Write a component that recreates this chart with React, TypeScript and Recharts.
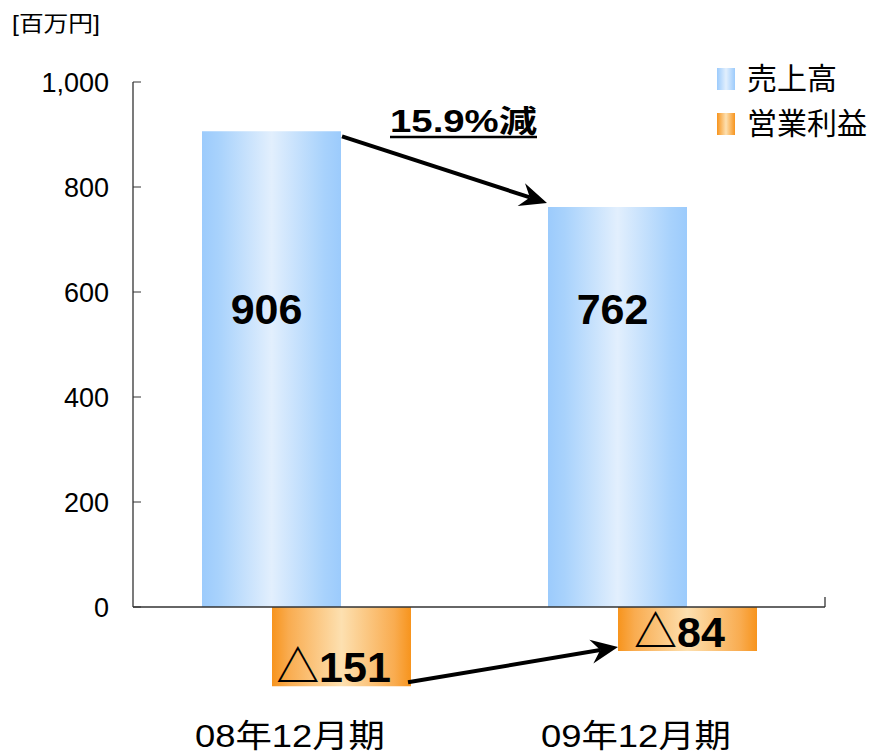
import { BarChart, Bar, XAxis, YAxis, ReferenceLine, Legend, LabelList } from 'recharts';

const periods = ['08年12月期', '09年12月期'];
const sales = [906, 762];
const profit = [-151, -84];
const yTicks = [0, 200, 400, 600, 800, 1000];
const seriesNames = ['売上高', '営業利益'];
const changeLabel = '15.9%減';
const unitLabel = '[百万円]';

const data = periods.map((p, i) => ({ period: p, sales: sales[i], profit: profit[i] }));

const W = 874;
const H = 755;
const FONT = "'Liberation Sans', 'Noto Sans CJK JP', sans-serif";

// layout constants (used for the annotation overlay)
const PLOT_LEFT = 133;
const PLOT_RIGHT = 825;
const PLOT_TOP = 82;
const PLOT_BOTTOM = 712;
const Y_MIN = -200;
const Y_MAX = 1000;
const BAND = (PLOT_RIGHT - PLOT_LEFT) / periods.length;
const BAR = 139;
const GAP = -69;
const BAR_OFFSET = Math.floor((BAND - (BAR * 2 + GAP)) / 2);

const yPx = (v: number) => PLOT_TOP + ((Y_MAX - v) / (Y_MAX - Y_MIN)) * (PLOT_BOTTOM - PLOT_TOP);
const salesLeft = (i: number) => PLOT_LEFT + i * BAND + BAR_OFFSET;
const profitLeft = (i: number) => salesLeft(i) + BAR + GAP;

const fmtProfit = (v: number) => (v < 0 ? '△' + Math.abs(v) : String(v));

function Arrow({ x1, y1, x2, y2 }: { x1: number; y1: number; x2: number; y2: number }) {
  const dx = x2 - x1;
  const dy = y2 - y1;
  const len = Math.sqrt(dx * dx + dy * dy);
  const ux = dx / len;
  const uy = dy / len;
  const px = -uy;
  const py = ux;
  const L = 27;
  const hw = 12;
  const notch = 9;
  const bx = x2 - ux * L;
  const by = y2 - uy * L;
  const nx = x2 - ux * (L - notch);
  const ny = y2 - uy * (L - notch);
  const pts = [
    [x2, y2],
    [bx + px * hw, by + py * hw],
    [nx, ny],
    [bx - px * hw, by - py * hw],
  ]
    .map((p) => p.join(','))
    .join(' ');
  return (
    <g>
      <line x1={x1} y1={y1} x2={nx} y2={ny} stroke="#000" strokeWidth={4} />
      <polygon points={pts} fill="#000" />
    </g>
  );
}

const XTick = (props: any) => {
  const { x, y, payload } = props;
  return (
    <text
      x={x - 16}
      y={y + 27}
      textAnchor="middle"
      fontSize={32}
      fontFamily={FONT}
      fill="#000"
      textLength={190}
      lengthAdjust="spacingAndGlyphs"
    >
      {payload.value}
    </text>
  );
};

const SalesLabel = (props: any) => {
  const { x, width, value } = props;
  return (
    <text
      x={x + width / 2 - 5}
      y={yPx(568)}
      textAnchor="middle"
      dominantBaseline="central"
      fontSize={43}
      fontWeight="bold"
      fontFamily={FONT}
      fill="#000"
    >
      {value}
    </text>
  );
};

const ProfitLabel = (props: any) => {
  const { x, y, width, height, value } = props;
  const bottom = Math.max(y, y + height);
  return (
    <text
      x={x + width / 2 - 8}
      y={bottom - 4}
      textAnchor="middle"
      fontSize={43}
      fontWeight="bold"
      fontFamily={FONT}
      fill="#000"
    >
      {fmtProfit(value)}
    </text>
  );
};

const swatchBg = [
  'linear-gradient(to right, #9ccbfc, #e2effd 50%, #9ccbfc)',
  'linear-gradient(to right, #f7941d, #fde0b0 50%, #f7941d)',
];

const LegendBox = () => (
  <div style={{ fontFamily: FONT }}>
    {seriesNames.map((n, i) => (
      <div key={n} style={{ display: 'flex', alignItems: 'center', height: 45 }}>
        <div style={{ width: 18, height: 22, background: swatchBg[i], marginRight: 12 }} />
        <span style={{ fontSize: 30, color: '#000', lineHeight: '30px' }}>{n}</span>
      </div>
    ))}
  </div>
);

export default function App() {
  return (
    <div style={{ position: 'absolute', left: 0, top: 0, width: W, height: H, background: '#fff' }}>
      <BarChart
        width={W}
        height={H}
        data={data}
        margin={{ top: PLOT_TOP, right: W - PLOT_RIGHT, bottom: 0, left: 0 }}
        barGap={GAP}
        barSize={BAR}
      >
        <defs>
          <linearGradient id="gSales" x1="0" y1="0" x2="1" y2="0">
            <stop offset="0%" stopColor="#9ccbfc" />
            <stop offset="12%" stopColor="#a8d2fc" />
            <stop offset="50%" stopColor="#e2effd" />
            <stop offset="88%" stopColor="#a8d2fc" />
            <stop offset="100%" stopColor="#9ccbfc" />
          </linearGradient>
          <linearGradient id="gProfit" x1="0" y1="0" x2="1" y2="0">
            <stop offset="0%" stopColor="#f7941d" />
            <stop offset="12%" stopColor="#f9ac50" />
            <stop offset="50%" stopColor="#fde0b0" />
            <stop offset="88%" stopColor="#f9ac50" />
            <stop offset="100%" stopColor="#f7941d" />
          </linearGradient>
        </defs>
        <XAxis
          dataKey="period"
          axisLine={false}
          tickLine={false}
          height={H - PLOT_BOTTOM}
          tick={<XTick />}
          interval={0}
        />
        <XAxis xAxisId="n" type="number" domain={[0, 2]} hide />
        <YAxis
          width={PLOT_LEFT}
          domain={[Y_MIN, Y_MAX]}
          ticks={yTicks}
          axisLine={false}
          tickSize={-8}
          tickMargin={32}
          tickLine={{ stroke: '#333' }}
          tick={{ fontSize: 27, fill: '#000', fontFamily: FONT }}
          tickFormatter={(v: number) => v.toLocaleString('en-US')}
        />
        <Bar dataKey="sales" name={seriesNames[0]} fill="url(#gSales)" isAnimationActive={false}>
          <LabelList dataKey="sales" content={<SalesLabel />} />
        </Bar>
        <Bar dataKey="profit" name={seriesNames[1]} fill="url(#gProfit)" isAnimationActive={false}>
          <LabelList dataKey="profit" content={<ProfitLabel />} />
        </Bar>
        <ReferenceLine y={0} stroke="#333" strokeWidth={1.3} />
        <ReferenceLine
          xAxisId="n"
          segment={[{ x: 0, y: 0 }, { x: 0, y: Y_MAX }]}
          stroke="#333"
          strokeWidth={1.3}
        />
        <ReferenceLine xAxisId="n" segment={[{ x: 1, y: 0 }, { x: 1, y: 19 }]} stroke="#333" strokeWidth={1.3} />
        <ReferenceLine xAxisId="n" segment={[{ x: 2, y: 0 }, { x: 2, y: 19 }]} stroke="#333" strokeWidth={1.3} />
        <Legend
          layout="vertical"
          align="center"
          verticalAlign="middle"
          content={<LegendBox />}
          wrapperStyle={{ position: 'absolute', left: 717, top: 56, width: 160 }}
        />
      </BarChart>
      <svg width={W} height={H} style={{ position: 'absolute', left: 0, top: 0, pointerEvents: 'none' }}>
        <text x={12} y={31} fontSize={22} fontFamily={FONT} fill="#000" textLength={88} lengthAdjust="spacingAndGlyphs">
          {unitLabel}
        </text>
        <text
          x={390}
          y={132}
          fontSize={31}
          fontWeight="bold"
          fontFamily={FONT}
          fill="#000"
          textLength={147}
          lengthAdjust="spacingAndGlyphs"
        >
          {changeLabel}
        </text>
        <line x1={390} y1={137} x2={537} y2={137} stroke="#000" strokeWidth={2.5} />
        <Arrow x1={salesLeft(0) + BAR + 2} y1={yPx(sales[0]) + 5} x2={salesLeft(1)} y2={yPx(sales[1]) - 4} />
        <Arrow x1={profitLeft(0) + BAR - 2} y1={yPx(profit[0]) - 4} x2={profitLeft(1) + 1} y2={yPx(profit[1]) - 4} />
      </svg>
    </div>
  );
}
